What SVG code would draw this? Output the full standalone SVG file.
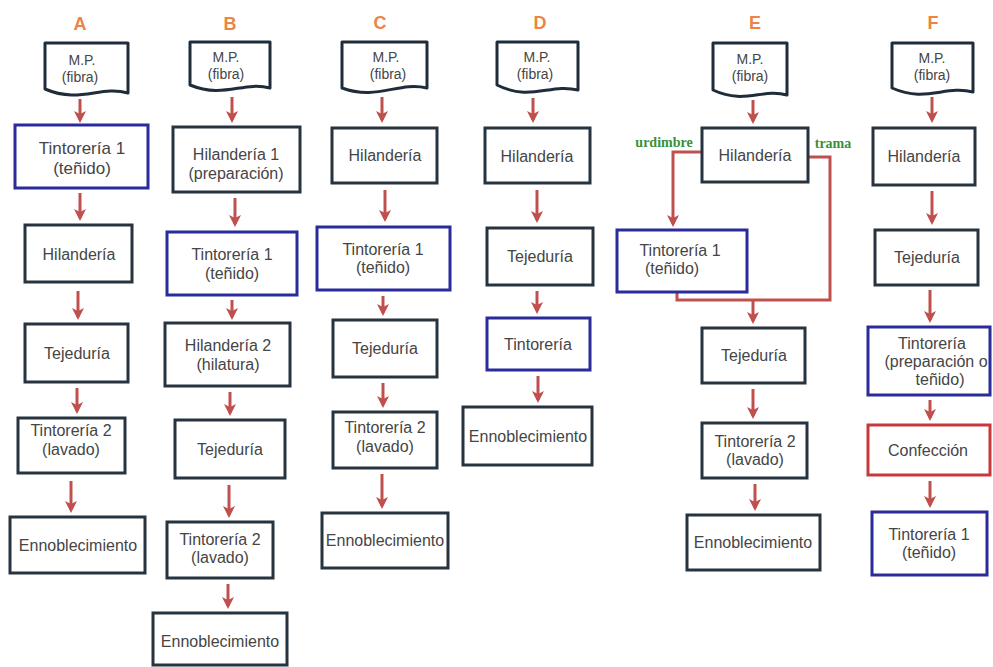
<svg xmlns="http://www.w3.org/2000/svg" width="993" height="667" viewBox="0 0 993 667">
  <defs>
    <marker id="head" viewBox="0 0 12 12" refX="9" refY="6" markerWidth="12" markerHeight="12" markerUnits="userSpaceOnUse" orient="auto">
      <path d="M0,0 L12,6 L0,12 L3,6 Z" fill="#c0504d"/>
    </marker>
    <style>
      .bg { fill: #ffffff; }
      .box { fill: #ffffff; stroke: #27343f; stroke-width: 3; }
      .blue { stroke: #2b2b9c; }
      .red { stroke: #c8383a; }
      .doc { fill: #ffffff; stroke: #1f2d3a; stroke-width: 3; stroke-linejoin: round; }
      .t { font-family: "Liberation Sans", Arial, sans-serif; font-size: 16px; fill: #454545; text-anchor: middle; }
      .mp { font-size: 14px; }
      .col { font-family: "Liberation Sans", Arial, sans-serif; font-size: 18px; font-weight: bold; fill: #ec8446; text-anchor: middle; }
      .lbl { font-family: "Liberation Serif", "Times New Roman", serif; font-size: 14px; font-weight: bold; fill: #3a8f3a; text-anchor: middle; }
      .arr { stroke: #c0504d; stroke-width: 3; fill: none; marker-end: url(#head); }
      .ln { stroke: #c0504d; stroke-width: 3; fill: none; }
    </style>
  </defs>
  <rect class="bg" x="0" y="0" width="993" height="667"/>

  <!-- column headings -->
  <g id="headings">
    <text class="col" x="80" y="30">A</text>
    <text class="col" x="230" y="30">B</text>
    <text class="col" x="380" y="29">C</text>
    <text class="col" x="540" y="29">D</text>
    <text class="col" x="755" y="29">E</text>
    <text class="col" x="933" y="29">F</text>
  </g>

  <!-- connectors -->
  <g id="connectors">
    <!-- A -->
    <line class="arr" x1="80" y1="99" x2="80" y2="120"/>
    <line class="arr" x1="80" y1="193" x2="80" y2="218"/>
    <line class="arr" x1="78" y1="291" x2="78" y2="317"/>
    <line class="arr" x1="77" y1="388" x2="77" y2="411"/>
    <line class="arr" x1="71" y1="481" x2="71" y2="510"/>
    <!-- B -->
    <line class="arr" x1="232" y1="97" x2="232" y2="120"/>
    <line class="arr" x1="235" y1="198" x2="235" y2="224"/>
    <line class="arr" x1="232" y1="300" x2="232" y2="317"/>
    <line class="arr" x1="230" y1="392" x2="230" y2="413"/>
    <line class="arr" x1="229" y1="485" x2="229" y2="515"/>
    <line class="arr" x1="228" y1="584" x2="228" y2="606"/>
    <!-- C -->
    <line class="arr" x1="382" y1="97" x2="382" y2="120"/>
    <line class="arr" x1="385" y1="190" x2="385" y2="219"/>
    <line class="arr" x1="383" y1="296" x2="383" y2="313"/>
    <line class="arr" x1="383" y1="383" x2="383" y2="405"/>
    <line class="arr" x1="382" y1="474" x2="382" y2="506"/>
    <!-- D -->
    <line class="arr" x1="533" y1="98" x2="533" y2="120"/>
    <line class="arr" x1="537" y1="190" x2="537" y2="220"/>
    <line class="arr" x1="537" y1="291" x2="537" y2="311"/>
    <line class="arr" x1="538" y1="376" x2="538" y2="400"/>
    <!-- E -->
    <line class="arr" x1="753" y1="100" x2="753" y2="121"/>
    <polyline class="arr" points="702,152 673,152 673,224"/>
    <polyline class="ln" points="808,157 830,157 830,300 677,300 677,292"/>
    <line class="arr" x1="753" y1="300" x2="753" y2="321"/>
    <line class="arr" x1="753" y1="389" x2="753" y2="416"/>
    <line class="arr" x1="755" y1="484" x2="755" y2="508"/>
    <!-- F -->
    <line class="arr" x1="932" y1="97" x2="932" y2="120"/>
    <line class="arr" x1="932" y1="191" x2="932" y2="222"/>
    <line class="arr" x1="930" y1="290" x2="930" y2="320"/>
    <line class="arr" x1="930" y1="400" x2="930" y2="418"/>
    <line class="arr" x1="930" y1="481" x2="930" y2="505"/>
  </g>

  <!-- edge labels -->
  <text class="lbl" x="664" y="147">urdimbre</text>
  <text class="lbl" x="833" y="148">trama</text>

  <!-- Column A -->
  <g id="a0">
    <path class="doc" d="M45,43 H128 V93 C100,85 80,104 45,89 Z"/>
    <text class="t mp" x="82" y="65">M.P.</text>
    <text class="t mp" x="80" y="82">(fibra)</text>
  </g>
  <g id="a1">
    <rect class="box blue" x="15" y="125" width="133" height="63"/>
    <text class="t" x="82" y="154" style="font-size:17px">Tintorería 1</text>
    <text class="t" x="82" y="174" style="font-size:17px">(teñido)</text>
  </g>
  <g id="a2">
    <rect class="box" x="25" y="225" width="107" height="57"/>
    <text class="t" x="79" y="260">Hilandería</text>
  </g>
  <g id="a3">
    <rect class="box" x="25" y="324" width="103" height="58"/>
    <text class="t" x="77" y="359">Tejeduría</text>
  </g>
  <g id="a4">
    <rect class="box" x="18" y="418" width="107" height="55"/>
    <text class="t" x="71" y="436">Tintorería 2</text>
    <text class="t" x="71" y="455">(lavado)</text>
  </g>
  <g id="a5">
    <rect class="box" x="10" y="517" width="135" height="56"/>
    <text class="t" x="78" y="551">Ennoblecimiento</text>
  </g>

  <!-- Column B -->
  <g id="b0">
    <path class="doc" d="M190,42 H270 V88 C243,81 224,99 190,85 Z"/>
    <text class="t mp" x="226" y="62">M.P.</text>
    <text class="t mp" x="226" y="79">(fibra)</text>
  </g>
  <g id="b1">
    <rect class="box" x="173" y="127" width="127" height="65"/>
    <text class="t" x="236" y="160">Hilandería 1</text>
    <text class="t" x="236" y="179">(preparación)</text>
  </g>
  <g id="b2">
    <rect class="box blue" x="167" y="232" width="130" height="63"/>
    <text class="t" x="232" y="260">Tintorería 1</text>
    <text class="t" x="232" y="279">(teñido)</text>
  </g>
  <g id="b3">
    <rect class="box" x="165" y="323" width="125" height="63"/>
    <text class="t" x="228" y="351">Hilandería 2</text>
    <text class="t" x="228" y="370">(hilatura)</text>
  </g>
  <g id="b4">
    <rect class="box" x="175" y="420" width="110" height="58"/>
    <text class="t" x="230" y="455">Tejeduría</text>
  </g>
  <g id="b5">
    <rect class="box" x="167" y="522" width="106" height="56"/>
    <text class="t" x="220" y="545">Tintorería 2</text>
    <text class="t" x="220" y="563">(lavado)</text>
  </g>
  <g id="b6">
    <rect class="box" x="153" y="613" width="134" height="52"/>
    <text class="t" x="220" y="647">Ennoblecimiento</text>
  </g>

  <!-- Column C -->
  <g id="c0">
    <path class="doc" d="M342,42 H427 V88 C398,81 378,101 342,88 Z"/>
    <text class="t mp" x="386" y="62">M.P.</text>
    <text class="t mp" x="388" y="79">(fibra)</text>
  </g>
  <g id="c1">
    <rect class="box" x="332" y="128" width="105" height="55"/>
    <text class="t" x="385" y="161">Hilandería</text>
  </g>
  <g id="c2">
    <rect class="box blue" x="317" y="227" width="133" height="63"/>
    <text class="t" x="383" y="255">Tintorería 1</text>
    <text class="t" x="383" y="273">(teñido)</text>
  </g>
  <g id="c3">
    <rect class="box" x="333" y="320" width="104" height="57"/>
    <text class="t" x="385" y="354">Tejeduría</text>
  </g>
  <g id="c4">
    <rect class="box" x="333" y="412" width="104" height="56"/>
    <text class="t" x="385" y="433">Tintorería 2</text>
    <text class="t" x="385" y="452">(lavado)</text>
  </g>
  <g id="c5">
    <rect class="box" x="322" y="513" width="126" height="55"/>
    <text class="t" x="385" y="546">Ennoblecimiento</text>
  </g>

  <!-- Column D -->
  <g id="d0">
    <path class="doc" d="M497,42 H578 V90 C550,83 531,102 497,85 Z"/>
    <text class="t mp" x="537" y="62">M.P.</text>
    <text class="t mp" x="535" y="79">(fibra)</text>
  </g>
  <g id="d1">
    <rect class="box" x="485" y="128" width="105" height="55"/>
    <text class="t" x="537" y="162">Hilandería</text>
  </g>
  <g id="d2">
    <rect class="box" x="487" y="228" width="106" height="57"/>
    <text class="t" x="540" y="262">Tejeduría</text>
  </g>
  <g id="d3">
    <rect class="box blue" x="487" y="318" width="103" height="52"/>
    <text class="t" x="538" y="350">Tintorería</text>
  </g>
  <g id="d4">
    <rect class="box" x="463" y="407" width="129" height="58"/>
    <text class="t" x="528" y="442">Ennoblecimiento</text>
  </g>

  <!-- Column E -->
  <g id="e0">
    <path class="doc" d="M713,43 H787 V95 C762,88 745,105 713,90 Z"/>
    <text class="t mp" x="750" y="64">M.P.</text>
    <text class="t mp" x="750" y="81">(fibra)</text>
  </g>
  <g id="e1">
    <rect class="box" x="702" y="128" width="106" height="54"/>
    <text class="t" x="755" y="161">Hilandería</text>
  </g>
  <g id="e2">
    <rect class="box blue" x="617" y="230" width="130" height="62"/>
    <text class="t" x="680" y="256">Tintorería 1</text>
    <text class="t" x="672" y="274">(teñido)</text>
  </g>
  <g id="e3">
    <rect class="box" x="702" y="328" width="103" height="55"/>
    <text class="t" x="754" y="361">Tejeduría</text>
  </g>
  <g id="e4">
    <rect class="box" x="702" y="423" width="105" height="55"/>
    <text class="t" x="755" y="447">Tintorería 2</text>
    <text class="t" x="755" y="465">(lavado)</text>
  </g>
  <g id="e5">
    <rect class="box" x="687" y="515" width="133" height="55"/>
    <text class="t" x="753" y="548">Ennoblecimiento</text>
  </g>

  <!-- Column F -->
  <g id="f0">
    <path class="doc" d="M892,43 H973 V92 C945,85 926,103 892,88 Z"/>
    <text class="t mp" x="932" y="63">M.P.</text>
    <text class="t mp" x="932" y="80">(fibra)</text>
  </g>
  <g id="f1">
    <rect class="box" x="873" y="128" width="102" height="57"/>
    <text class="t" x="924" y="162">Hilandería</text>
  </g>
  <g id="f2">
    <rect class="box" x="875" y="230" width="103" height="55"/>
    <text class="t" x="927" y="263">Tejeduría</text>
  </g>
  <g id="f3">
    <rect class="box blue" x="868" y="327" width="122" height="68"/>
    <text class="t" x="932" y="349">Tintorería</text>
    <text class="t" x="936" y="367">(preparación o</text>
    <text class="t" x="940" y="385">teñido)</text>
  </g>
  <g id="f4">
    <rect class="box red" x="868" y="425" width="122" height="50"/>
    <text class="t" x="928" y="456">Confección</text>
  </g>
  <g id="f5">
    <rect class="box blue" x="872" y="512" width="115" height="63"/>
    <text class="t" x="929" y="540">Tintorería 1</text>
    <text class="t" x="929" y="558">(teñido)</text>
  </g>
</svg>
